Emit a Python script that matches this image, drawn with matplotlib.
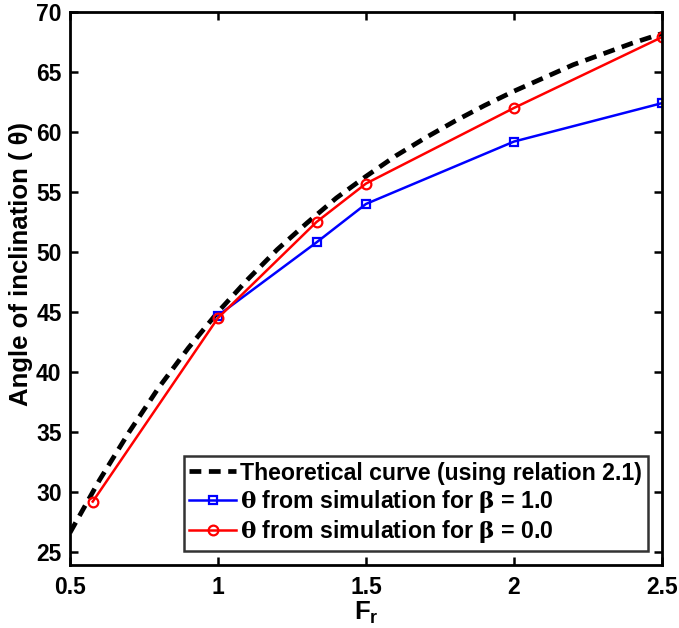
import matplotlib
matplotlib.use("Agg")
import matplotlib.pyplot as plt

plt.rcParams['font.family'] = ['Liberation Sans', 'DejaVu Sans']
plt.rcParams['font.weight'] = 'bold'
plt.rcParams['mathtext.fontset'] = 'custom'
plt.rcParams['mathtext.bf'] = 'Liberation Sans:bold'
plt.rcParams['mathtext.rm'] = 'DejaVu Serif'

# theoretical curve
fr_theory = [0.5, 0.6, 0.7, 0.8, 0.9, 1.0, 1.1, 1.2, 1.3, 1.4, 1.5,
             1.6, 1.7, 1.8, 1.9, 2.0, 2.1, 2.2, 2.3, 2.4, 2.5]
theta_theory = [26.6, 31.0, 35.0, 38.7, 42.0, 45.0, 47.7, 50.2, 52.4, 54.5, 56.3,
                58.0, 59.5, 60.9, 62.2, 63.4, 64.5, 65.6, 66.5, 67.4, 68.2]

# simulation, beta = 1.0
fr_b1 = [1.0, 1.333, 1.5, 2.0, 2.5]
theta_b1 = [44.7, 50.8, 54.0, 59.2, 62.4]

# simulation, beta = 0.0
fr_b0 = [0.577, 1.0, 1.333, 1.5, 2.0, 2.5]
theta_b0 = [29.2, 44.5, 52.5, 55.7, 62.0, 67.9]

xticks = [0.5, 1, 1.5, 2, 2.5]
xticklabels = ['0.5', '1', '1.5', '2', '2.5']
yticks = [25, 30, 35, 40, 45, 50, 55, 60, 65, 70]

fig = plt.figure(figsize=(6.79, 6.28), dpi=100)
ax = fig.add_axes([0.103, 0.1, 0.872, 0.881])

ax.plot(fr_theory, theta_theory, color='black', linestyle='--', linewidth=3.4,
        dashes=(2.5, 1.6), label='Theoretical curve (using relation 2.1)')
ax.plot(fr_b1, theta_b1, color='blue', linewidth=1.8, marker='s', markersize=6,
        markerfacecolor='none', markeredgewidth=1.6,
        label=r'$\mathrm{θ}$ from simulation for $\mathrm{β}$ = 1.0')
ax.plot(fr_b0, theta_b0, color='red', linewidth=1.8, marker='o', markersize=7,
        markerfacecolor='none', markeredgewidth=1.6,
        label=r'$\mathrm{θ}$ from simulation for $\mathrm{β}$ = 0.0')

ax.set_xlim(0.5, 2.5)
ax.set_ylim(23.9, 70)
ax.set_xticks(xticks)
ax.set_xticklabels(xticklabels)
ax.set_yticks(yticks)
ax.tick_params(direction='in', top=True, right=True, length=6, width=1.8,
               labelsize=16.5)
ax.tick_params(axis='x', pad=8)
ax.tick_params(axis='y', pad=6)
for lab in ax.get_xticklabels() + ax.get_yticklabels():
    lab.set_fontweight('bold')
for sp in ax.spines.values():
    sp.set_linewidth(2)

ax.set_xlabel(r'$\mathbf{F}_\mathbf{r}$', fontsize=18.5, labelpad=0)
ax.set_ylabel('Angle of inclination ( θ)', fontsize=18.5, fontweight='bold')
ax.yaxis.set_label_coords(-0.062, 0.545)

leg = ax.legend(loc='lower right', fontsize=16.7, frameon=True, fancybox=False,
                edgecolor='black', borderpad=0.25, handlelength=2.0,
                handletextpad=0.2, labelspacing=0.15, borderaxespad=0.6)
leg.get_frame().set_linewidth(1.8)
for t in leg.get_texts():
    t.set_fontweight('bold')

fig.savefig('out.png', dpi=100)
